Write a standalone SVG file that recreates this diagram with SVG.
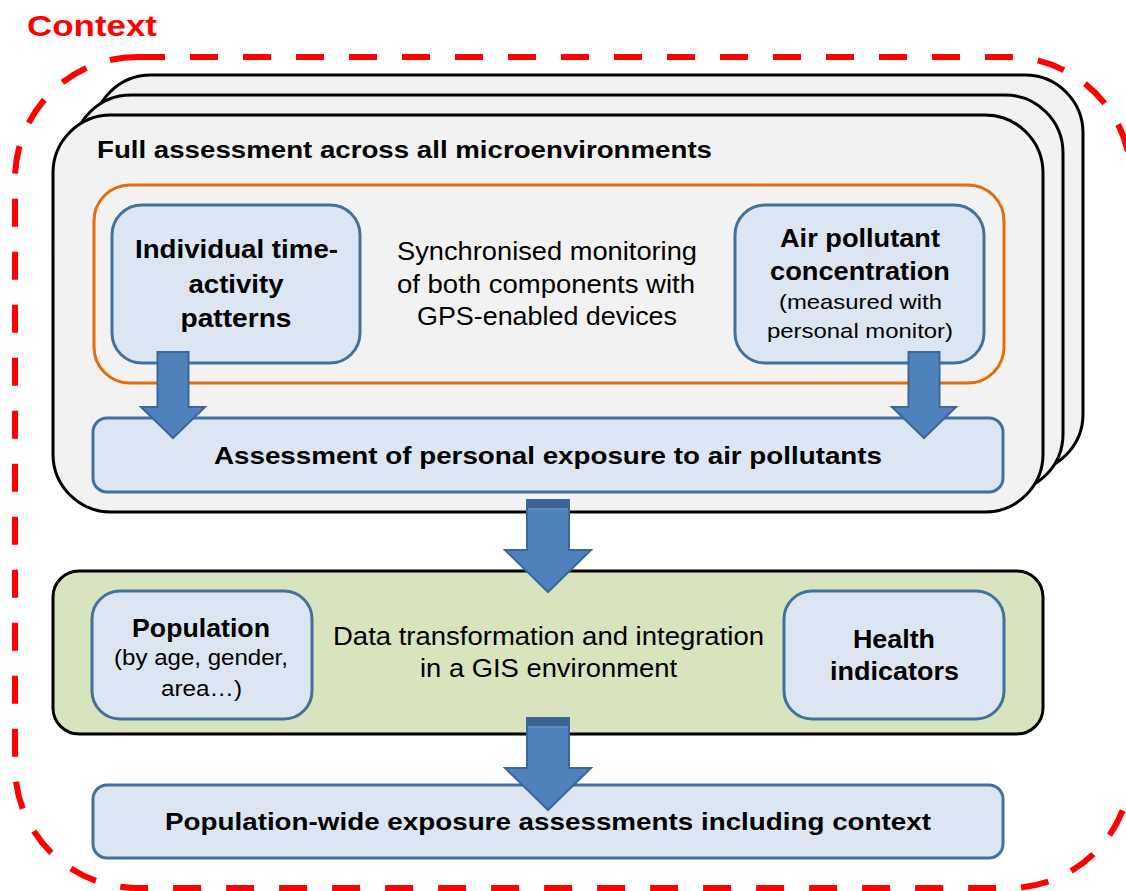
<svg xmlns="http://www.w3.org/2000/svg" width="1126" height="891" viewBox="0 0 1126 891">
  <style>
    .t { font-family: "Liberation Sans", Arial, sans-serif; fill: #000; }
    .b { font-weight: bold; }
    .stack { fill: #f2f2f2; stroke: #000; stroke-width: 3; }
    .blue { fill: #dce6f2; stroke: #41719c; stroke-width: 3; }
    .arrow { fill: #4f81bd; stroke: #3a679a; stroke-width: 2; }
    .band { fill: #3b6495; }
  </style>
  <defs>
    <polygon id="smallArrow" points="-15.5,0 15.5,0 15.5,55 32,55 0,86 -32,55 -15.5,55"/>
    <polygon id="bigArrow" points="-21,0 21,0 21,50 43,50 0,92 -43,50 -21,50"/>
  </defs>

  <!-- context boundary -->
  <g id="context">
    <rect x="15" y="57" width="1116" height="831" rx="122" fill="none" stroke="#ff0000" stroke-width="6" stroke-dasharray="28 25"/>
    <text class="t b" x="27" y="36" font-size="30" style="fill:#ff0000" textLength="130" lengthAdjust="spacingAndGlyphs">Context</text>
  </g>

  <!-- stacked microenvironment panels -->
  <g id="microenvironments">
    <rect class="stack" x="93" y="75" width="990" height="397" rx="58"/>
    <rect class="stack" x="73" y="95" width="990" height="397" rx="58"/>
    <rect class="stack" x="53" y="115" width="990" height="397" rx="58"/>
    <text class="t b" x="97" y="158" font-size="24" textLength="615" lengthAdjust="spacingAndGlyphs">Full assessment across all microenvironments</text>
  </g>

  <!-- synchronised monitoring frame -->
  <g id="monitoring">
    <rect x="94" y="185" width="910" height="198" rx="36" fill="none" stroke="#e46c0a" stroke-width="3"/>
    <g class="t" font-size="26" text-anchor="middle">
      <text x="547" y="260" textLength="300" lengthAdjust="spacingAndGlyphs">Synchronised monitoring</text>
      <text x="546" y="293" textLength="298" lengthAdjust="spacingAndGlyphs">of both components with</text>
      <text x="547" y="325" textLength="260" lengthAdjust="spacingAndGlyphs">GPS-enabled devices</text>
    </g>
  </g>

  <g id="time-activity">
    <rect class="blue" x="112" y="205" width="248" height="158" rx="30"/>
    <g class="t b" font-size="26" text-anchor="middle">
      <text x="236.5" y="258" textLength="203" lengthAdjust="spacingAndGlyphs">Individual time-</text>
      <text x="236" y="293" textLength="95" lengthAdjust="spacingAndGlyphs">activity</text>
      <text x="236" y="327" textLength="111" lengthAdjust="spacingAndGlyphs">patterns</text>
    </g>
  </g>

  <g id="air-pollutant">
    <rect class="blue" x="735" y="205" width="249" height="158" rx="30"/>
    <g class="t" text-anchor="middle">
      <text class="b" x="860" y="247" font-size="26" textLength="160" lengthAdjust="spacingAndGlyphs">Air pollutant</text>
      <text class="b" x="860" y="280" font-size="26" textLength="180" lengthAdjust="spacingAndGlyphs">concentration</text>
      <text x="860.5" y="309" font-size="21" textLength="163" lengthAdjust="spacingAndGlyphs">(measured with</text>
      <text x="860" y="338" font-size="21" textLength="186" lengthAdjust="spacingAndGlyphs">personal monitor)</text>
    </g>
  </g>

  <g id="personal-exposure">
    <rect class="blue" x="93" y="418" width="910" height="74" rx="14"/>
    <text class="t b" x="548" y="464" font-size="24" text-anchor="middle" textLength="668" lengthAdjust="spacingAndGlyphs">Assessment of personal exposure to air pollutants</text>
  </g>

  <!-- GIS integration panel -->
  <g id="gis">
    <rect x="53" y="571" width="990" height="163" rx="26" fill="#d7e4bd" stroke="#000" stroke-width="3"/>
    <g class="t" font-size="26" text-anchor="middle">
      <text x="548.5" y="645" textLength="431" lengthAdjust="spacingAndGlyphs">Data transformation and integration</text>
      <text x="548.5" y="677" textLength="257" lengthAdjust="spacingAndGlyphs">in a GIS environment</text>
    </g>
  </g>

  <g id="population">
    <rect class="blue" x="92" y="591" width="220" height="128" rx="28"/>
    <g class="t" text-anchor="middle">
      <text class="b" x="201" y="637" font-size="26" textLength="138" lengthAdjust="spacingAndGlyphs">Population</text>
      <text x="201" y="665" font-size="22" textLength="174" lengthAdjust="spacingAndGlyphs">(by age, gender,</text>
      <text x="201.5" y="696" font-size="22" textLength="81" lengthAdjust="spacingAndGlyphs">area…)</text>
    </g>
  </g>

  <g id="health">
    <rect class="blue" x="784" y="591" width="220" height="128" rx="28"/>
    <g class="t b" font-size="26" text-anchor="middle">
      <text x="894" y="648" textLength="82" lengthAdjust="spacingAndGlyphs">Health</text>
      <text x="894.5" y="680" textLength="129" lengthAdjust="spacingAndGlyphs">indicators</text>
    </g>
  </g>

  <g id="population-wide">
    <rect class="blue" x="93" y="785" width="910" height="73" rx="14"/>
    <text class="t b" x="548" y="830" font-size="24" text-anchor="middle" textLength="766" lengthAdjust="spacingAndGlyphs">Population-wide exposure assessments including context</text>
  </g>

  <!-- block arrows between stages -->
  <g id="connectors">
    <use href="#smallArrow" class="arrow" x="173" y="352"/>
    <use href="#smallArrow" class="arrow" x="924" y="352"/>
    <g>
      <use href="#bigArrow" class="arrow" x="548" y="500"/>
      <rect class="band" x="528" y="501" width="40" height="8"/>
      <line x1="528" y1="509" x2="568" y2="509" stroke="#6f93c4" stroke-width="1.5"/>
    </g>
    <g>
      <use href="#bigArrow" class="arrow" x="548" y="718"/>
      <rect class="band" x="528" y="719" width="40" height="8"/>
      <line x1="528" y1="727" x2="568" y2="727" stroke="#6f93c4" stroke-width="1.5"/>
    </g>
  </g>
</svg>
